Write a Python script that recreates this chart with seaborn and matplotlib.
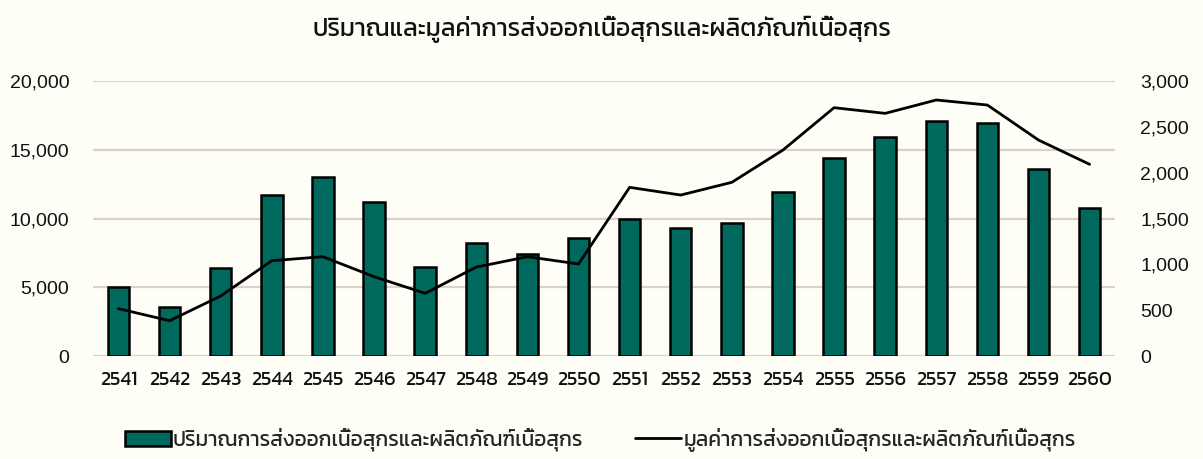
import matplotlib
matplotlib.use("Agg")
import matplotlib.pyplot as plt
from matplotlib.lines import Line2D
from matplotlib.patches import Patch
from matplotlib.ticker import FuncFormatter
import numpy as np
import pandas as pd
import seaborn as sns

# ข้อมูล (อ่านจากกราฟ)
years = ["2541", "2542", "2543", "2544", "2545", "2546", "2547", "2548", "2549", "2550",
         "2551", "2552", "2553", "2554", "2555", "2556", "2557", "2558", "2559", "2560"]
volume = [5040, 3590, 6400, 11690, 13040, 11220, 6450, 8200, 7420, 8560,
          9940, 9330, 9700, 11950, 14380, 15900, 17100, 16970, 13600, 10800]
value = [516, 385, 655, 1040, 1083, 865, 684, 970, 1083, 1004,
         1840, 1756, 1895, 2247, 2709, 2647, 2793, 2738, 2356, 2091]

title = "ปริมาณและมูลค่าการส่งออกเนื้อสุกรและผลิตภัณฑ์เนื้อสุกร"
label_volume = "ปริมาณการส่งออกเนื้อสุกรและผลิตภัณฑ์เนื้อสุกร"
label_value = "มูลค่าการส่งออกเนื้อสุกรและผลิตภัณฑ์เนื้อสุกร"

bg = "#FFFEF6"
bar_color = "#00695E"
grid_color = "#DAD1CB"
thai = ["Kanit", "DejaVu Sans"]
num = ["Liberation Sans", "DejaVu Sans"]

df = pd.DataFrame({"year": years, "volume": volume, "value": value})
df["pos"] = np.arange(len(df))

sns.set_theme(style="white")
plt.rcParams["font.family"] = thai

fig = plt.figure(figsize=(12.03, 4.59), dpi=100, facecolor=bg)
ax = fig.add_axes([0.0773, 0.2244, 0.8497, 0.5991], facecolor=bg)

sns.barplot(data=df, x="year", y="volume", ax=ax, color=bar_color,
            saturation=1, width=0.42, edgecolor="black", linewidth=1.8)
ax.set_ylim(0, 20000)
ax.set_yticks([0, 5000, 10000, 15000, 20000])
ax.set_xlim(-0.5, len(years) - 0.5)
ax.yaxis.grid(True, color=grid_color, linewidth=1.6)
ax.set_axisbelow(True)
ax.yaxis.set_major_formatter(FuncFormatter(lambda v, p: "{:,.0f}".format(v)))
ax.set_xlabel("")
ax.set_ylabel("")
ax.tick_params(axis="y", length=0, pad=17, labelsize=14, labelcolor="#111111",
               labelfontfamily=num)
ax.tick_params(axis="x", length=0, pad=11, labelsize=14.3, labelcolor="#111111")

ax2 = ax.twinx()
sns.lineplot(data=df, x="pos", y="value", ax=ax2, color="black", linewidth=2)
ax2.set_ylim(0, 3000)
ax2.set_yticks([0, 500, 1000, 1500, 2000, 2500, 3000])
ax2.yaxis.set_major_formatter(FuncFormatter(lambda v, p: "{:,.0f}".format(v)))
ax2.set_ylabel("")
ax2.set_xlabel("")
ax2.set_xlim(-0.5, len(years) - 0.5)
ax2.tick_params(axis="y", length=0, pad=18, labelsize=14, labelcolor="#111111",
                labelfontfamily=num)

for a in (ax, ax2):
    for s in a.spines.values():
        s.set_visible(False)

fig.suptitle(title, y=0.965, fontsize=17.8, fontweight="normal", color="#111111")

handles = [Patch(facecolor=bar_color, edgecolor="black", linewidth=1.8),
           Line2D([0], [0], color="black", linewidth=2)]
fig.legend(handles, [label_volume, label_value], loc="lower center",
           bbox_to_anchor=(0.499, -0.025), ncol=2, frameon=False, fontsize=15,
           handlelength=2.2, handletextpad=0.1, columnspacing=2.5)

fig.savefig("out.png", dpi=100, facecolor=bg)
